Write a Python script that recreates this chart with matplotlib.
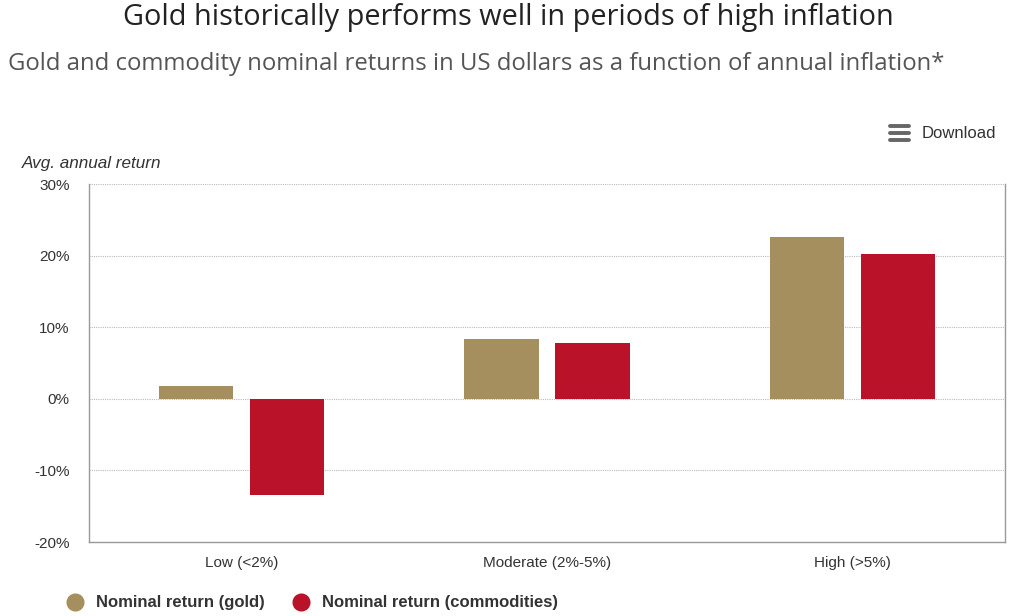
import matplotlib
matplotlib.use("Agg")
import matplotlib.pyplot as plt
import numpy as np
from matplotlib.lines import Line2D

categories = ["Low (<2%)", "Moderate (2%-5%)", "High (>5%)"]
gold = [1.8, 8.3, 22.6]
commodities = [-13.5, 7.8, 20.2]
series_names = ["Nominal return (gold)", "Nominal return (commodities)"]
yticks = [-20, -10, 0, 10, 20, 30]

gold_color = "#A68F5E"
comm_color = "#BA1228"

fig = plt.figure(figsize=(10.3, 6.16), dpi=100)
ax = fig.add_axes([89/1030, 1-542/616, (1005-89)/1030, (542-184)/616])

x = np.arange(len(categories))
w = 0.243
off = 0.149
ax.bar(x - off, gold, width=w, color=gold_color, zorder=3)
ax.bar(x + off, commodities, width=w, color=comm_color, zorder=3)

ax.set_xlim(-0.5, 2.5)
ax.set_ylim(-20, 30)
ax.set_yticks(yticks)
ax.set_yticklabels([f"{t}%" for t in yticks])
ax.set_xticks(x)
ax.set_xticklabels(categories)
ax.tick_params(axis="both", length=0, labelsize=11, colors="#333333", labelcolor="#333333")
ax.tick_params(axis="y", pad=14)
ax.tick_params(axis="x", pad=10)
for lab in ax.get_yticklabels():
    lab.set_family("Liberation Sans")
for lab in ax.get_xticklabels():
    lab.set_family("Liberation Sans")

ax.grid(axis="y", color="#BBBBBB", linestyle=(0, (1, 1)), linewidth=0.8, zorder=0)
for s in ["left", "right", "bottom"]:
    ax.spines[s].set_color("#999999")
    ax.spines[s].set_linewidth(1.0)
ax.spines["top"].set_visible(False)

fig.text(508/1030, 1-17/616, "Gold historically performs well in periods of high inflation",
         ha="center", va="center", fontsize=20.8, color="#222222", family="Open Sans")
fig.text(8/1030, 1-64/616, "Gold and commodity nominal returns in US dollars as a function of annual inflation*",
         ha="left", va="center", fontsize=17.2, color="#555555", family="Open Sans")
fig.text(22/1030, 1-164/616, "Avg. annual return", ha="left", va="center", fontsize=12.3,
         style="italic", color="#333333", family="Liberation Sans")

# Download button
fig.text(922/1030, 1-134/616, "Download", ha="left", va="center", fontsize=12,
         color="#333333", family="Liberation Sans")
for yy in [126, 133, 140]:
    fig.add_artist(Line2D([890/1030, 909/1030], [1-yy/616, 1-yy/616], color="#666666",
                          linewidth=2.8, solid_capstyle="round"))

# Legend
handles = [Line2D([0], [0], marker="o", linestyle="none", markersize=12, markerfacecolor=gold_color,
                  markeredgecolor=gold_color),
           Line2D([0], [0], marker="o", linestyle="none", markersize=12, markerfacecolor=comm_color,
                  markeredgecolor=comm_color)]
leg = fig.legend(handles, series_names, loc="center left", bbox_to_anchor=(43/1030, 1-603/616),
                 ncol=2, frameon=False, handletextpad=0.25, columnspacing=1.2,
                 prop={"family": "Liberation Sans", "weight": "bold", "size": 12})
for t in leg.get_texts():
    t.set_color("#333333")

fig.savefig("out.png", dpi=100)
